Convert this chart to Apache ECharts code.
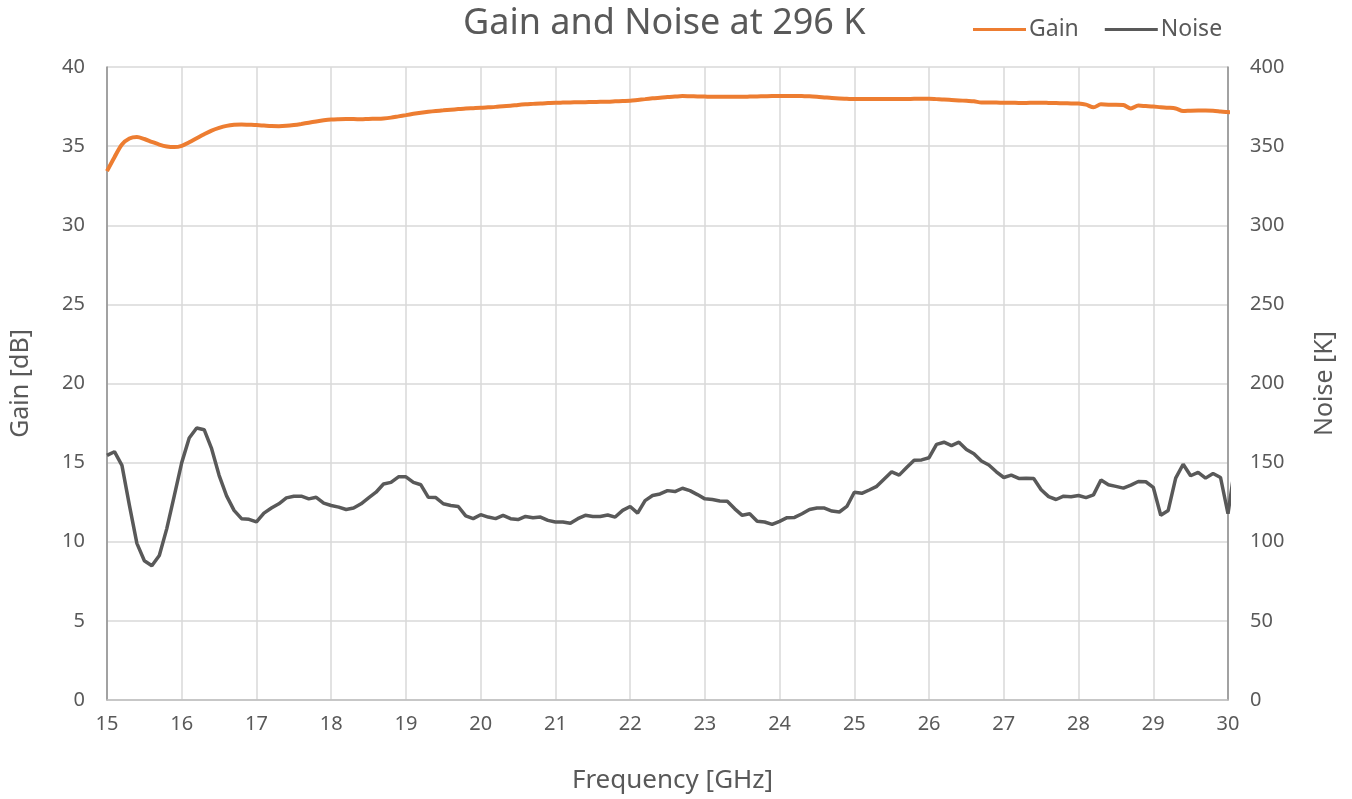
<!DOCTYPE html>
<html>
<head>
<meta charset="utf-8">
<script src="https://cdn.jsdelivr.net/npm/echarts@6/dist/echarts.min.js"></script>
<style>
  html, body { margin: 0; padding: 0; background: #fff; }
  #chart { width: 1352px; height: 799px; }
</style>
</head>
<body>
<div id="chart"></div>
<script>
// frequency points, GHz
var freq = [
  15.0, 15.1, 15.2, 15.3, 15.4, 15.5, 15.6, 15.7, 15.8, 15.9,
  16.0, 16.1, 16.2, 16.3, 16.4, 16.5, 16.6, 16.7, 16.8, 16.9,
  17.0, 17.1, 17.2, 17.3, 17.4, 17.5, 17.6, 17.7, 17.8, 17.9,
  18.0, 18.1, 18.2, 18.3, 18.4, 18.5, 18.6, 18.7, 18.8, 18.9,
  19.0, 19.1, 19.2, 19.3, 19.4, 19.5, 19.6, 19.7, 19.8, 19.9,
  20.0, 20.1, 20.2, 20.3, 20.4, 20.5, 20.6, 20.7, 20.8, 20.9,
  21.0, 21.1, 21.2, 21.3, 21.4, 21.5, 21.6, 21.7, 21.8, 21.9,
  22.0, 22.1, 22.2, 22.3, 22.4, 22.5, 22.6, 22.7, 22.8, 22.9,
  23.0, 23.1, 23.2, 23.3, 23.4, 23.5, 23.6, 23.7, 23.8, 23.9,
  24.0, 24.1, 24.2, 24.3, 24.4, 24.5, 24.6, 24.7, 24.8, 24.9,
  25.0, 25.1, 25.2, 25.3, 25.4, 25.5, 25.6, 25.7, 25.8, 25.9,
  26.0, 26.1, 26.2, 26.3, 26.4, 26.5, 26.6, 26.7, 26.8, 26.9,
  27.0, 27.1, 27.2, 27.3, 27.4, 27.5, 27.6, 27.7, 27.8, 27.9,
  28.0, 28.1, 28.2, 28.3, 28.4, 28.5, 28.6, 28.7, 28.8, 28.9,
  29.0, 29.1, 29.2, 29.3, 29.4, 29.5, 29.6, 29.7, 29.8, 29.9,
  30.0, 30.1
];

// gain, dB
var gain = [
  33.42, 34.30, 35.10, 35.48, 35.57, 35.45, 35.27, 35.10, 34.98, 34.94,
  35.02, 35.25, 35.50, 35.75, 35.98, 36.15, 36.28, 36.35, 36.37, 36.35,
  36.33, 36.30, 36.27, 36.26, 36.28, 36.33, 36.40, 36.48, 36.56, 36.63,
  36.68, 36.70, 36.71, 36.71, 36.70, 36.72, 36.73, 36.75, 36.80, 36.88,
  36.96, 37.04, 37.11, 37.17, 37.22, 37.26, 37.30, 37.34, 37.38, 37.40,
  37.42, 37.45, 37.48, 37.52, 37.55, 37.60, 37.64, 37.67, 37.70, 37.72,
  37.74, 37.75, 37.76, 37.77, 37.78, 37.79, 37.80, 37.81, 37.83, 37.85,
  37.87, 37.92, 37.97, 38.02, 38.06, 38.10, 38.13, 38.16, 38.15, 38.14,
  38.13, 38.12, 38.12, 38.12, 38.12, 38.12, 38.13, 38.14, 38.15, 38.16,
  38.16, 38.17, 38.17, 38.16, 38.15, 38.12, 38.08, 38.04, 38.01, 37.99,
  37.97, 37.97, 37.97, 37.98, 37.98, 37.98, 37.98, 37.98, 37.99, 37.99,
  37.99, 37.97, 37.95, 37.92, 37.89, 37.86, 37.83, 37.76, 37.75, 37.75,
  37.74, 37.74, 37.73, 37.73, 37.74, 37.74, 37.73, 37.72, 37.71, 37.70,
  37.69, 37.62, 37.45, 37.64, 37.62, 37.62, 37.60, 37.38, 37.56, 37.53,
  37.50, 37.46, 37.43, 37.38, 37.22, 37.24, 37.25, 37.25, 37.23, 37.19,
  37.15, 37.13
];

// noise temperature, K
var noise = [
  154.6, 156.9, 148.3, 123.0, 99.0, 88.0, 84.8, 91.3, 108.3, 129.0,
  150.0, 165.6, 171.9, 170.8, 158.8, 142.0, 129.0, 119.8, 114.6, 114.2,
  112.5, 118.1, 121.3, 124.0, 127.7, 128.8, 128.8, 127.1, 128.1, 124.4,
  122.9, 121.9, 120.4, 121.3, 124.0, 127.7, 131.3, 136.5, 137.5, 141.0,
  141.0, 137.5, 136.0, 128.1, 127.9, 124.0, 122.9, 122.3, 116.3, 114.6,
  117.1, 115.6, 114.6, 116.7, 114.6, 114.0, 116.0, 115.2, 115.6, 113.5,
  112.5, 112.5, 111.7, 114.6, 116.7, 116.0, 116.0, 116.9, 115.6, 119.8,
  122.3, 118.1, 126.0, 129.2, 130.2, 132.3, 131.7, 133.8, 132.3, 129.8,
  127.1, 126.7, 125.8, 125.6, 120.8, 116.7, 117.7, 112.9, 112.5, 111.0,
  112.9, 115.2, 115.4, 117.7, 120.4, 121.3, 121.3, 119.4, 118.8, 122.3,
  131.3, 130.6, 132.7, 135.0, 139.6, 144.2, 142.1, 146.9, 151.5, 151.7,
  153.1, 161.5, 162.9, 160.8, 162.9, 158.3, 155.6, 151.0, 148.5, 144.2,
  140.6, 142.1, 140.0, 140.2, 140.0, 132.9, 128.5, 126.7, 128.8, 128.5,
  129.2, 127.9, 129.6, 139.0, 136.0, 135.0, 133.9, 135.8, 138.1, 137.9,
  134.4, 116.7, 119.8, 140.2, 149.0, 141.7, 143.8, 140.2, 143.1, 140.6,
  117.7, 150.0
];

var TEXT = '#595959';
var FONT = '"Noto Sans", sans-serif';

function pairs(xs, ys) {
  return xs.map(function (x, i) { return [x, ys[i]]; });
}

var chart = echarts.init(document.getElementById('chart'));
chart.setOption({
  animation: false,
  textStyle: { fontFamily: FONT, color: TEXT },
  title: {
    text: 'Gain and Noise at 296 K',
    left: 458,
    top: 1,
    textStyle: { fontFamily: FONT, fontSize: 36, fontWeight: 'normal', color: TEXT }
  },
  legend: {
    left: 968,
    top: 13,
    icon: 'rect',
    itemWidth: 53,
    itemHeight: 3,
    itemGap: 26,
    textStyle: { fontFamily: FONT, fontSize: 23, color: TEXT, padding: [0, 0, 0, -2] },
    data: ['Gain', 'Noise']
  },
  grid: { left: 107, right: 124, top: 67, bottom: 99, containLabel: false },
  xAxis: {
    type: 'value',
    min: 15,
    max: 30,
    interval: 1,
    name: 'Frequency [GHz]',
    nameLocation: 'middle',
    nameGap: 68,
    nameTextStyle: { fontFamily: FONT, fontSize: 26, color: TEXT, padding: [0, 0, 0, 10] },
    axisLine: { lineStyle: { color: '#bfbfbf', width: 1.5 } },
    axisTick: { show: false },
    axisLabel: { fontFamily: FONT, fontSize: 20, color: TEXT, margin: 14 },
    splitLine: { show: true, lineStyle: { color: '#d9d9d9', width: 1.5 } }
  },
  yAxis: [{
    type: 'value',
    min: 0,
    max: 40,
    interval: 5,
    name: 'Gain [dB]',
    nameLocation: 'middle',
    nameGap: 74,
    nameTextStyle: { fontFamily: FONT, fontSize: 25, color: TEXT },
    axisLine: { show: true, lineStyle: { color: '#8c8c8c', width: 1.5 } },
    axisTick: { show: false },
    axisLabel: { fontFamily: FONT, fontSize: 20, color: TEXT, margin: 22 },
    splitLine: { show: true, lineStyle: { color: '#d9d9d9', width: 1.5 } }
  }, {
    type: 'value',
    min: 0,
    max: 400,
    interval: 50,
    name: 'Noise [K]',
    nameLocation: 'middle',
    nameGap: 84,
    nameTextStyle: { fontFamily: FONT, fontSize: 25, color: TEXT },
    axisLine: { show: true, lineStyle: { color: '#8c8c8c', width: 1.5 } },
    axisTick: { show: false },
    axisLabel: { fontFamily: FONT, fontSize: 20, color: TEXT, margin: 22 },
    splitLine: { show: false }
  }],
  series: [{
    name: 'Gain',
    type: 'line',
    yAxisIndex: 0,
    data: pairs(freq, gain),
    showSymbol: false,
    clip: true,
    smooth: 0.3,
    itemStyle: { color: '#ed7d31' },
    lineStyle: { color: '#ed7d31', width: 4 }
  }, {
    name: 'Noise',
    type: 'line',
    yAxisIndex: 1,
    data: pairs(freq, noise),
    showSymbol: false,
    clip: true,
    itemStyle: { color: '#595959' },
    lineStyle: { color: '#595959', width: 3.5 }
  }]
});
</script>
</body>
</html>
